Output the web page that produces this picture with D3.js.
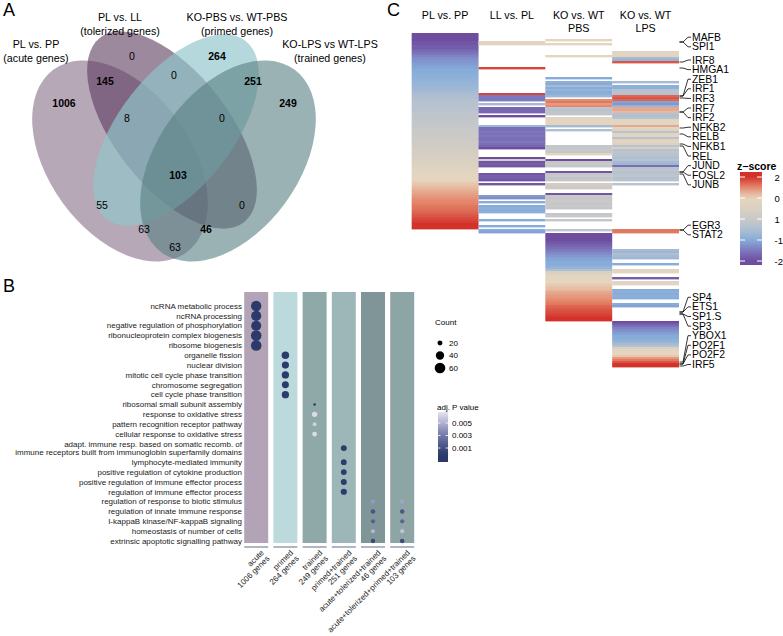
<!DOCTYPE html>
<html><head><meta charset="utf-8">
<script src="https://cdn.jsdelivr.net/npm/d3@7"></script>
<style>
body{margin:0;background:#fff;}
svg{font-family:"Liberation Sans",Arial,Helvetica,sans-serif;}
</style></head><body>
<svg id="fig" width="783" height="636"></svg>
<script>
// ================= DATA =================
// ---- Panel A : Venn ----
const vennSetTitles = ["PL vs. PP", "PL vs. LL", "KO-PBS vs. WT-PBS", "KO-LPS vs WT-LPS"];
const vennSetSubtitles = ["(acute genes)", "(tolerized genes)", "(primed genes)", "(trained genes)"];
const vennRegionSets = ["A","AB","B","C","BC","CD","D","ABC","BCD","ABCD","AC","BD","ACD","ABD","AD"];
const vennRegionCounts = [1006,145,0,264,0,251,249,8,0,103,55,0,63,46,63];
const vennHighlighted = ["A","AB","C","CD","D","ABCD","ABD"];

// ---- Panel B : GO dot plot ----
const goTerms = ["ncRNA metabolic process","ncRNA processing","negative regulation of phosphorylation",
 "ribonucleoprotein complex biogenesis","ribosome biogenesis","organelle fission","nuclear division",
 "mitotic cell cycle phase transition","chromosome segregation","cell cycle phase transition",
 "ribosomal small subunit assembly","response to oxidative stress","pattern recognition receptor pathway",
 "cellular response to oxidative stress",
 "adapt. immune resp. based on somatic recomb. of\nimmune receptors built from immunoglobin superfamily domains",
 "lymphocyte-mediated immunity","positive regulation of cytokine production",
 "positive regulation of immune effector process","regulation of immune effector process",
 "regulation of response to biotic stimulus","regulation of innate immune response",
 "I-kappaB kinase/NF-kappaB signaling","homeostasis of number of cells","extrinsic apoptotic signalling pathway"];
const goGroups = ["acute","primed","trained","primed+trained","acute+tolerized+trained","acute+tolerized+primed+trained"];
const goGroupGenes = [1006,264,249,251,46,103];
const dotTerm  = [0,1,2,3,4, 5,6,7,8,9, 10,11,12,13, 14,15,16,17,18, 19,20,21,22,23, 19,20,21,22,23];
const dotGroup = [0,0,0,0,0, 1,1,1,1,1, 2,2,2,2, 3,3,3,3,3, 4,4,4,4,4, 5,5,5,5,5];
const dotCount = [58,56,55,60,66, 34,32,33,31,33, 12,22,16,19, 25,24,24,25,26, 17,18,17,16,17, 17,18,17,17,18];
const dotPadj  = [0.00001,0.00001,0.00002,0.00001,0.00001, 0.00005,0.00005,0.00006,0.00005,0.00006,
 0.0003,0.0064,0.006,0.0065, 0.0001,0.0001,0.0001,0.0001,0.0001,
 0.0042,0.0012,0.0018,0.0052,0.0006, 0.0046,0.0014,0.002,0.0056,0.0008];
const countLegend = [20,40,60];
const padjLegend = [0.005,0.003,0.001];

// ---- Panel C : heatmap (z-scores, rows of sorted genes; runs = [firstRow, values]) ----
const hmRowCount = 167;
const hmTitles = [["PL vs. PP"],["LL vs. PL"],["KO vs. WT","PBS"],["KO vs. WT","LPS"]];
const hmPLvsPP = [[0,[-2.2,-2.1,-2.0,-2.0,-1.9,-1.9,-1.8,-1.8,-1.7,-1.6,-1.5,
 -1.4,-1.3,-1.25,-1.2,-1.15,-1.1,-1.05,-1.0,-1.0,-0.95,-0.9,-0.9,-0.85,-0.8,-0.8,-0.75,-0.7,
 -0.65,-0.6,-0.55,-0.5,-0.45,
 -0.4,-0.38,-0.35,-0.33,-0.3,-0.28,-0.25,-0.22,-0.2,-0.18,-0.15,-0.12,-0.1,-0.08,-0.05,-0.02,0,0.02,0.05,0.08,0.1,0.13,0.16,0.2,0.23,0.27,0.3,0.35,0.4,
 0.45,0.5,0.55,0.6,0.65,0.7,0.75,0.8,0.85,0.9,0.95,1.0,1.05,1.1,1.15,
 1.2,1.25,1.3,1.35,1.4,1.45,1.5,1.52,1.55,1.6,1.63,1.66,1.7,
 1.75,1.8,1.85,1.9,1.95,2.0,2.1,2.2]]];
const hmLLvsPL = [[4,[0.8,0.8]],[17,[1.9]],[30,[1.9,-1.5,-1.5,-1.5]],[35,[-0.6]],[37,[-1.7,-1.7,-1.7]],[41,[-2.0]],
 [46,[-0.7,-1.6,-1.6,-1.5,-1.6,-1.5,-1.6,-1.6,-1.5,-1.6,-1.7,-2.0]],[62,[-2.0,0.3,-1.9,-1.8,-1.9]],
 [70,[-1.9,-1.8,-1.8,-1.9]],[75,[-1.9]],[81,[-1.2,-1.3]],[84,[-1.0]],[86,[-1.0,-0.9,-1.0,-0.9]],[93,[-1.0]],[96,[-1.0]],[98,[-1.0,-1.1]]];
const hmPBS = [[3,[0.9]],[5,[0.9]],[11,[0.9]],[22,[-1.0]],[24,[-0.9,-1.0,-0.6,-1.0,-0.8,-1.0,-0.9,-0.7]],
 [33,[1.5,1.6,1.4,1.5,-0.2,-0.3,-0.2,-0.2]],[42,[0.8,0.9,0.9,0.8,-0.6]],[48,[-0.5]],[56,[-0.1,-0.1,0,-0.1,0.8]],
 [63,[-2.0,-0.1,0,-0.1]],[69,[-1.9,-0.1,0,-0.2,-0.1]],[75,[0.3,0.2,0.1]],[80,[-1.9,0,-0.1,0,0,-0.1,0,-0.1]],
 [90,[-0.1,0]],[93,[-0.1]],[98,[-0.2]],
 [100,[-2.2,-2.1,-2.0,-2.0,-1.9,-1.8,-1.7,-1.6,-1.5,-1.4, -1.3,-1.2,-1.1,-1.05,-1.0,-1.0,-0.9,-0.8,-0.5,
  0.4,0.7,0.8,0.9,0.95,1.0,1.05,1.1,1.15, 1.2,1.3,1.35,1.4,1.45,1.5,1.55,1.6, 1.7,1.75,1.8,1.85,1.9,1.95,2.0,2.1]]];
const hmLPS = [[9,[0.8,0.9,0.8,-0.6,-0.8,1.8]],[24,[-0.6]],
 [26,[-0.9,-0.9,-0.4,-0.3,-0.4,1.7,1.8,1.7,-1.1,-1.2,-0.8,1.3,1.3,1.2,-0.4,-0.5,-0.3,0.8,0.9,0.8,1.3,0.8,0.7,-0.3,0.8,0.9,-0.4,0.7,0.8,0.6,-0.3,0.5,-0.4,-0.2,-0.3,-0.4,-0.5,-0.3,-0.6,-0.7,-1.6,-0.3,-0.2,-0.4,-0.3,-0.2,-0.4,-0.3]],
 [75,[-0.3]],[98,[1.6,1.6]],[108,[-0.6,-0.7,-0.5,-0.6,-0.7]],[115,[-1.0]],[118,[0.8,0.8]],[122,[-1.8]],[124,[0.8,0.8]],
 [128,[-1.0,-0.9,-1.0,-0.9,-1.0]],[135,[-1.0,-1.1]],
 [144,[-2.0,-1.8,-1.6,-1.4,-1.3,-1.2,-1.1,-1.0,-1.0,-0.9,-0.8,-0.6,-0.4,0.5,0.8,0.9,1.0,1.1,1.4,1.6,1.8,2.0,2.2]]];
const geneNames = ["MAFB","SPI1","IRF8","HMGA1","ZEB1","IRF1","IRF3","IRF7","IRF2","NFKB2","RELB","NFKB1","REL",
 "JUND","FOSL2","JUNB","EGR3","STAT2","SP4","ETS1","SP1.S","SP3","YBOX1","PO2F1","PO2F2","IRF5"];
const geneRows = [4,4,14,17,31,31,32,39,39,47,50,55,56,69,69,70,98,98,139,139,140,140,164,165,165,166];
const zTicks = [2,1,0,-1,-2];
const zTickLabels = ["2","0","1","-1","-2"];

// ================= LAYOUT / STYLE =================
const svg = d3.select("#fig");
const defs = svg.append("defs");

[["A",3,16],["B",3,292],["C",387,16]].forEach(([t,x,y])=>
  svg.append("text").attr("x",x).attr("y",y).attr("font-size",18).text(t));

// ---------- Panel A ----------
const vennShapes = [
 {cx:120,cy:161,rx:113,ry:71,rot:54,fill:"#7e6381",op:0.56},
 {cx:172,cy:130,rx:117,ry:57,rot:52,fill:"#5b3a5e",op:0.6},
 {cx:176,cy:130,rx:113,ry:57,rot:-52,fill:"#90c5ca",op:0.68},
 {cx:228,cy:161,rx:113,ry:71,rot:-54,fill:"#567f80",op:0.6}];
const gA = svg.append("g");
gA.selectAll("ellipse").data(vennShapes).join("ellipse")
  .attr("transform",d=>`translate(${d.cx},${d.cy}) rotate(${d.rot})`)
  .attr("rx",d=>d.rx).attr("ry",d=>d.ry)
  .attr("fill",d=>d.fill).attr("fill-opacity",d=>d.op);
const vennLabelPos = {A:[64,103],AB:[105,81],B:[132,56],C:[217,56],BC:[174,75],CD:[253,81],D:[288,103],
 ABC:[127,118],BCD:[222,118],ABCD:[178,175],AC:[102,205],BD:[242,205],ACD:[144,229],ABD:[206,229],AD:[175,247]};
gA.selectAll("text.cnt").data(vennRegionSets).join("text").attr("class","cnt")
  .attr("x",d=>vennLabelPos[d][0]).attr("y",d=>vennLabelPos[d][1])
  .attr("text-anchor","middle").attr("dominant-baseline","central")
  .attr("font-size",10.5).attr("font-weight",d=>vennHighlighted.includes(d)?"bold":"normal")
  .text((d,i)=>vennRegionCounts[i]);
const vennTitlePos = [[36,44],[120,17],[237,17],[330,44]];
vennSetTitles.forEach((t,i)=>{
  const [x,y]=vennTitlePos[i];
  gA.append("text").attr("x",x).attr("y",y).attr("text-anchor","middle").attr("dominant-baseline","central")
    .attr("font-size",10.7).text(t);
  gA.append("text").attr("x",x).attr("y",y+14).attr("text-anchor","middle").attr("dominant-baseline","central")
    .attr("font-size",10.7).text(vennSetSubtitles[i]);
});

// ---------- Panel B ----------
const gB = svg.append("g");
const colFill = ["#b3a3b6","#bcd9dc","#8fa9a9","#9db7b8","#7f9597","#8ea5a6"];
const xB = d3.scaleBand().domain(goGroups).range([244.2,414.2]).paddingInner(0.178).paddingOuter(0);
const termH = goTerms.map(t=>t.includes("\n")?1.86:1);
const termC = []; termH.forEach((h,i)=>termC.push(i===0?0:termC[i-1]+(termH[i-1]+h)/2));
const yB = d3.scaleLinear().domain([0,termC[termC.length-1]]).range([306,541]);
const areaB = d3.scaleLinear().domain([8.6,60]).range([0,28.1]).clamp(true);
const rB = c=>Math.sqrt(Math.max(areaB(c),1.5));
const cB = d3.scaleLinear().domain([0,0.0035,0.0068]).range(["#2b3a6b","#8084b2","#e6e6ef"]).clamp(true);
gB.selectAll("rect.col").data(goGroups).join("rect").attr("class","col")
  .attr("x",d=>xB(d)).attr("width",xB.bandwidth()).attr("y",292).attr("height",251)
  .attr("fill",(d,i)=>colFill[i]);
gB.selectAll("line.ax").data(goGroups).join("line").attr("class","ax")
  .attr("x1",d=>xB(d)).attr("x2",d=>xB(d)+xB.bandwidth()).attr("y1",547).attr("y2",547)
  .attr("stroke","#8d98a8").attr("stroke-width",1.4);
goTerms.forEach((t,i)=>{
  const lines=t.split("\n");
  const tx=gB.append("text").attr("x",242).attr("y",yB(termC[i])).attr("text-anchor","end")
    .attr("font-size",8).attr("fill","#1a1a1a");
  lines.forEach((l,j)=>tx.append("tspan").attr("x",242)
    .attr("dy", j===0 ? ((-(lines.length-1)*1.0/2)+0.35)+"em" : "1.0em").text(l));
});
gB.selectAll("circle.dot").data(dotTerm).join("circle").attr("class","dot")
  .attr("cx",(d,i)=>xB(goGroups[dotGroup[i]])+xB.bandwidth()/2)
  .attr("cy",d=>yB(termC[d]))
  .attr("r",(d,i)=>rB(dotCount[i]))
  .attr("fill",(d,i)=>cB(dotPadj[i]));
goGroups.forEach((g,i)=>{
  const cx=xB(g)+xB.bandwidth()/2;
  const tx=gB.append("text").attr("transform",`translate(${cx+4},${549}) rotate(-45)`)
    .attr("text-anchor","end").attr("font-size",8).attr("fill","#1a1a1a");
  tx.append("tspan").attr("x",0).attr("dy","0.75em").text(g);
  tx.append("tspan").attr("x",0).attr("dy","1.0em").text(goGroupGenes[i]+" genes");
});
gB.append("text").attr("x",435).attr("y",325).attr("font-size",8).text("Count");
countLegend.forEach((c,i)=>{
  const y=343+i*12.5;
  gB.append("circle").attr("cx",440).attr("cy",y).attr("r",rB(c)).attr("fill","#000");
  gB.append("text").attr("x",449).attr("y",y).attr("dominant-baseline","central").attr("font-size",8).text(c);
});
gB.append("text").attr("x",437).attr("y",410).attr("font-size",8).text("adj. P value");
const pY = d3.scaleLinear().domain([0.005,0.001]).range([423,448]);
const pg = defs.append("linearGradient").attr("id","pgrad").attr("x1",0).attr("x2",0).attr("y1",0).attr("y2",1);
d3.range(0,1.0001,0.1).forEach(t=>{
  const p = pY.invert(412+t*50);
  pg.append("stop").attr("offset",t).attr("stop-color",cB(Math.max(p,0)));
});
gB.append("rect").attr("x",438).attr("y",412).attr("width",10).attr("height",50).attr("fill","url(#pgrad)");
padjLegend.forEach(p=>{
  const y=pY(p);
  gB.append("line").attr("x1",438).attr("x2",440.5).attr("y1",y).attr("y2",y).attr("stroke","#fff").attr("stroke-width",0.8);
  gB.append("line").attr("x1",445.5).attr("x2",448).attr("y1",y).attr("y2",y).attr("stroke","#fff").attr("stroke-width",0.8);
  gB.append("text").attr("x",452).attr("y",y).attr("dominant-baseline","central").attr("font-size",8).text(p);
});

// ---------- Panel C ----------
const gC = svg.append("g");
const zColor = d3.scaleLinear().domain([-2,-1.5,-1,-0.5,0,0.5,1,1.5,2])
  .range(["#6e4d9f","#7d78bd","#86acd9","#aebfd2","#cac9c7","#d9d0c3","#e6d6be","#e58a6e","#d3322a"]).clamp(true);
const hmCols = [hmPLvsPP,hmLLvsPL,hmPBS,hmLPS];
const xC = d3.scaleBand().domain(d3.range(4)).range([411.7,679]);
const yC = d3.scaleLinear().domain([0,hmRowCount]).range([33,367]);
hmCols.forEach((runs,ci)=>{
  const cells=[];
  runs.forEach(([start,vals])=>vals.forEach((v,k)=>cells.push({r:start+k,z:v})));
  gC.selectAll(null).data(cells).join("rect")
    .attr("x",xC(ci)).attr("width",xC.bandwidth())
    .attr("y",d=>yC(d.r)).attr("height",d=>yC(d.r+1)-yC(d.r)+0.4)
    .attr("fill",d=>zColor(d.z));
});
hmTitles.forEach((lines,ci)=>{
  lines.forEach((l,j)=>gC.append("text").attr("x",xC(ci)+xC.bandwidth()/2).attr("y",15+j*13)
    .attr("text-anchor","middle").attr("dominant-baseline","central").attr("font-size",10.7).text(l));
});
const targets = geneRows.map(r=>yC(r+0.5));
function placeLabels(tg,gap,lo,hi){
  let groups = tg.map((t,i)=>({items:[i]}));
  const pos = g=>{const m=d3.mean(g.items,i=>tg[i]);const n=g.items.length;
    return Math.max(lo,Math.min(hi-(n-1)*gap,m-(n-1)*gap/2));};
  let changed=true;
  while(changed){
    changed=false;
    for(let i=0;i<groups.length-1;i++){
      const a=groups[i],b=groups[i+1];
      if(pos(b)-(pos(a)+(a.items.length-1)*gap) < gap-1e-6){
        groups.splice(i,2,{items:a.items.concat(b.items)});changed=true;break;}
    }
  }
  const out=[];
  groups.forEach(g=>{const s=pos(g);g.items.forEach((it,k)=>out[it]=s+k*gap);});
  return out;
}
const labelY = placeLabels(targets,9.6,34,364.5);
geneNames.forEach((g,i)=>{
  const ty=targets[i], ly=labelY[i];
  gC.append("path").attr("d",`M679.5,${ty}H683L688,${ly}H691`).attr("fill","none")
    .attr("stroke","#000").attr("stroke-width",0.8);
  gC.append("text").attr("x",692).attr("y",ly).attr("dominant-baseline","central")
    .attr("font-size",10.4).text(g);
});
const zY = d3.scaleLinear().domain([2,-2]).range([177,261]);
gC.append("text").attr("x",737).attr("y",166).attr("dominant-baseline","central")
  .attr("font-size",10.5).attr("font-weight","bold").text("z\u2212score");
const zg = defs.append("linearGradient").attr("id","zgrad").attr("x1",0).attr("x2",0).attr("y1",0).attr("y2",1);
d3.range(0,1.0001,0.05).forEach(t=>{
  const z = zY.invert(172+t*93);
  zg.append("stop").attr("offset",t).attr("stop-color",zColor(z));
});
gC.append("rect").attr("x",740).attr("y",172).attr("width",22).attr("height",93).attr("fill","url(#zgrad)");
zTicks.forEach((z,i)=>{
  const y=zY(z);
  gC.append("line").attr("x1",740).attr("x2",745).attr("y1",y).attr("y2",y).attr("stroke","#fff").attr("stroke-width",1);
  gC.append("line").attr("x1",757).attr("x2",762).attr("y1",y).attr("y2",y).attr("stroke","#fff").attr("stroke-width",1);
  gC.append("text").attr("x",774.5).attr("y",y).attr("dominant-baseline","central").attr("font-size",9.5).text(zTickLabels[i]);
});
</script>
</body></html>
